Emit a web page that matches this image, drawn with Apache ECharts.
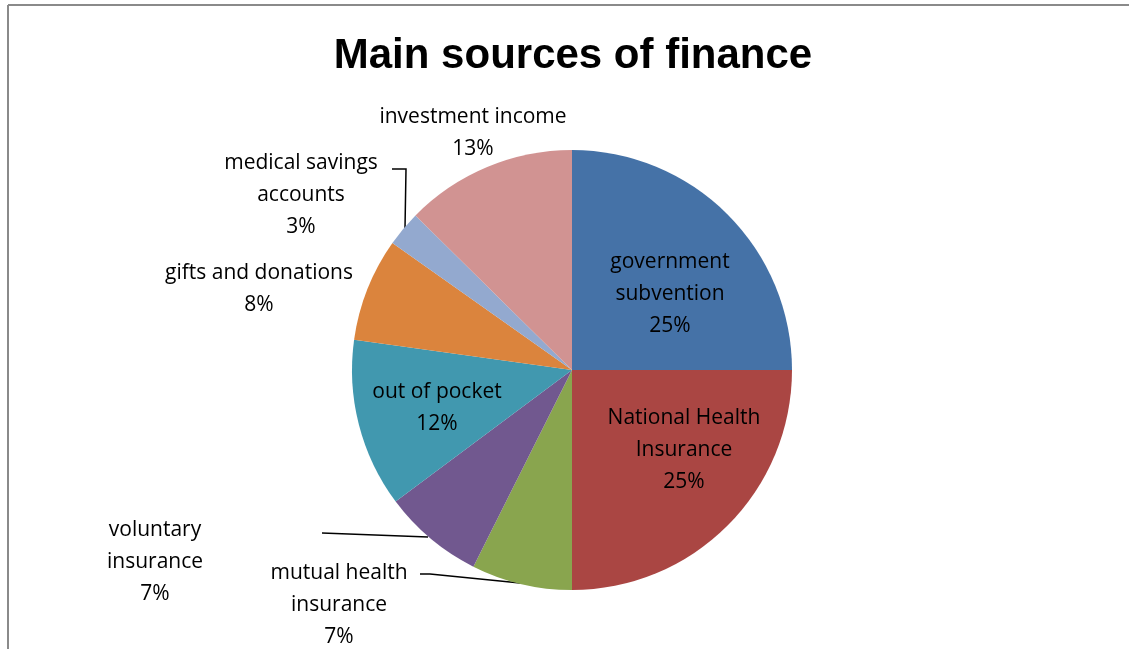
<!DOCTYPE html>
<html>
<head>
<meta charset="utf-8">
<script src="https://cdn.jsdelivr.net/npm/echarts@6/dist/echarts.min.js"></script>
<style>
html,body{margin:0;padding:0;background:#fff;}
#chart{width:1129px;height:649px;}
</style>
</head>
<body>
<div id="chart"></div>
<script>
// ---- data ----
const title = 'Main sources of finance';
const categories = ['government subvention', 'National Health Insurance', 'mutual health insurance', 'voluntary insurance', 'out of pocket', 'gifts and donations', 'medical savings accounts', 'investment income'];
const values = [25, 25, 7.4, 7.4, 12.4, 7.6, 2.6, 12.6];
const colors = ['#4572A7', '#AA4643', '#89A54E', '#71588F', '#4198AF', '#DB843D', '#93A9CF', '#D19392'];
// label line breaks (word index after which a break is placed)
const breakAfter = [1, 2, 2, 1, 0, 0, 2, 0];

// ---- layout (label placement, not data) ----
const labelPlace = [
  {x: 670, y: 294},
  {x: 684, y: 450},
  {x: 339, y: 605, line: [[520, 583], [430, 574], [420, 574]]},
  {x: 155, y: 562, line: [[428, 537], [322, 533]]},
  {x: 437, y: 408},
  {x: 259, y: 289},
  {x: 301, y: 195, line: [[405, 228], [406, 169], [392, 169]]},
  {x: 473, y: 133}
];
const insideIdx = [0, 1, 4];
const lineIdx = [2, 3, 6];

function wrapName(name, k) {
  if (!k) return name;
  const w = name.split(' ');
  return w.slice(0, k).join(' ') + '\n' + w.slice(k).join(' ');
}

const chart = echarts.init(document.getElementById('chart'), null, {renderer: 'canvas'});
const FONT = '"Open Sans", sans-serif';

const data = categories.map((c, i) => ({
  name: c,
  value: values[i],
  itemStyle: {color: colors[i]},
  label: {position: insideIdx.includes(i) ? 'inside' : 'outside'},
  labelLine: {show: lineIdx.includes(i)}
}));

chart.setOption({
  animation: false,
  backgroundColor: '#fff',
  title: {
    text: title,
    left: 568,
    top: 30,
    textAlign: 'center',
    textStyle: {fontFamily: '"Liberation Sans", Arial, sans-serif', fontWeight: 'bold', fontSize: 42, color: '#000'}
  },
  graphic: [
    {type: 'line', shape: {x1: 8, y1: 5, x2: 1129, y2: 5}, style: {stroke: '#8a8a8a', lineWidth: 2}},
    {type: 'line', shape: {x1: 8, y1: 5, x2: 8, y2: 649}, style: {stroke: '#8a8a8a', lineWidth: 2}}
  ],
  series: [{
    type: 'pie',
    center: [572, 370],
    radius: 220,
    startAngle: 90,
    clockwise: true,
    avoidLabelOverlap: false,
    data: data,
    itemStyle: {borderWidth: 0},
    label: {
      show: true,
      color: '#000',
      fontFamily: FONT,
      fontSize: 21,
      lineHeight: 32,
      align: 'center',
      formatter: p => wrapName(p.name, breakAfter[p.dataIndex]) + '\n' + Math.round(p.percent) + '%'
    },
    labelLine: {lineStyle: {color: '#000', width: 1.5}, smooth: false},
    emphasis: {disabled: true},
    labelLayout: function (p) {
      const o = labelPlace[p.dataIndex];
      const r = {x: o.x, y: o.y, align: 'center', verticalAlign: 'middle'};
      if (o.line) r.labelLinePoints = o.line;
      return r;
    }
  }]
});
</script>
</body>
</html>
